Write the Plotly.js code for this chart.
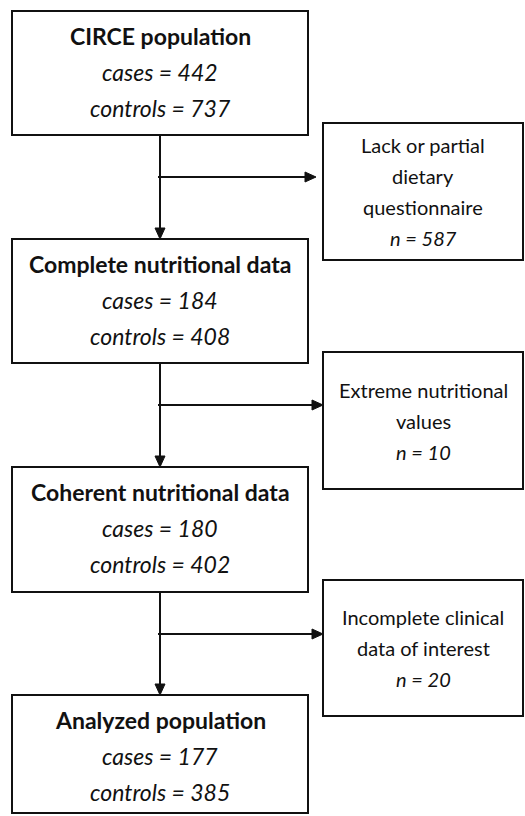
<!DOCTYPE html>
<html>
<head>
<meta charset="utf-8">
<script src="https://cdn.plot.ly/plotly-3.0.1.min.js"></script>
<style>html,body{margin:0;padding:0;background:#fff;}#chart{width:525px;height:816px;}</style>
</head>
<body>
<div id="chart"></div>
<script>
// ---- data ----
const stageTitles = ["CIRCE population", "Complete nutritional data", "Coherent nutritional data", "Analyzed population"];
const stageCases = [442, 184, 180, 177];
const stageControls = [737, 408, 402, 385];
const exclusionLabels = [["Lack or partial", "dietary", "questionnaire"], ["Extreme nutritional", "values"], ["Incomplete clinical", "data of interest"]];
const exclusionCounts = [587, 10, 20];

// ---- layout geometry (pixels) ----
const mainX = [12, 308];
const mainY = [[11, 135], [239, 363], [467, 592], [695, 813]];
const sideX = [323, 523];
const sideY = [[123, 260], [352, 489], [580, 716]];
const arrowTipX = [316, 323, 323];
const arrowDrop = 42;
const mainLineOffsets = [25, 61, 97];
const sideLineGap = 31;
const headLen = 11, headHalf = 5;

const FONT = "Lato, 'Open Sans', sans-serif";
const ink = "#111";
const shapes = [];
const annotations = [];
const cx = (mainX[0] + mainX[1]) / 2;
const sx = (sideX[0] + sideX[1]) / 2;

function rect(x0, x1, y0, y1) {
  shapes.push({type: "rect", xref: "x", yref: "y", x0, x1, y0, y1, line: {color: ink, width: 2}, fillcolor: "rgba(0,0,0,0)"});
}
function line(x0, y0, x1, y1) {
  shapes.push({type: "line", xref: "x", yref: "y", x0, y0, x1, y1, line: {color: ink, width: 2}});
}
function tri(path) {
  shapes.push({type: "path", xref: "x", yref: "y", path, fillcolor: ink, line: {color: ink, width: 1}});
}
function text(x, y, t, size, weight, style) {
  annotations.push({x, y, xref: "x", yref: "y", text: t, showarrow: false, xanchor: "center", yanchor: "middle",
    font: {family: FONT, size, color: ink, weight: weight || "normal", style: style || "normal"}});
}

stageTitles.forEach((title, i) => {
  const [y0, y1] = mainY[i];
  rect(mainX[0], mainX[1], y0, y1);
  text(cx, y0 + mainLineOffsets[0], title, 23, "bold");
  text(cx, y0 + mainLineOffsets[1], "cases = " + stageCases[i], 23, "normal", "italic");
  text(cx, y0 + mainLineOffsets[2], "controls = " + stageControls[i], 23, "normal", "italic");
  if (i < stageTitles.length - 1) {
    const yNext = mainY[i + 1][0];
    line(cx, y1, cx, yNext - headLen + 1);
    tri(`M ${cx - headHalf},${yNext - headLen} L ${cx + headHalf},${yNext - headLen} L ${cx},${yNext} Z`);
    const ya = y1 + arrowDrop;
    const tip = arrowTipX[i];
    line(cx - 2, ya, tip - headLen + 1, ya);
    tri(`M ${tip - headLen},${ya - headHalf} L ${tip - headLen},${ya + headHalf} L ${tip},${ya} Z`);
  }
});

exclusionLabels.forEach((lines, i) => {
  const [y0, y1] = sideY[i];
  rect(sideX[0], sideX[1], y0, y1);
  const all = lines.map(l => ({t: l, it: false})).concat([{t: "n = " + exclusionCounts[i], it: true}]);
  const mid = (y0 + y1) / 2;
  const start = mid - (all.length - 1) * sideLineGap / 2;
  all.forEach((l, k) => text(sx, start + k * sideLineGap, l.t, 20, "normal", l.it ? "italic" : "normal"));
});

const layout = {
  width: 525, height: 816,
  margin: {l: 0, r: 0, t: 0, b: 0},
  paper_bgcolor: "#fff", plot_bgcolor: "#fff",
  showlegend: false,
  xaxis: {range: [0, 525], visible: false, fixedrange: true},
  yaxis: {range: [816, 0], visible: false, fixedrange: true},
  shapes, annotations
};
Plotly.newPlot("chart", [{x: [], y: [], type: "scatter", mode: "markers"}], layout, {staticPlot: true, displayModeBar: false});
</script>
</body>
</html>
